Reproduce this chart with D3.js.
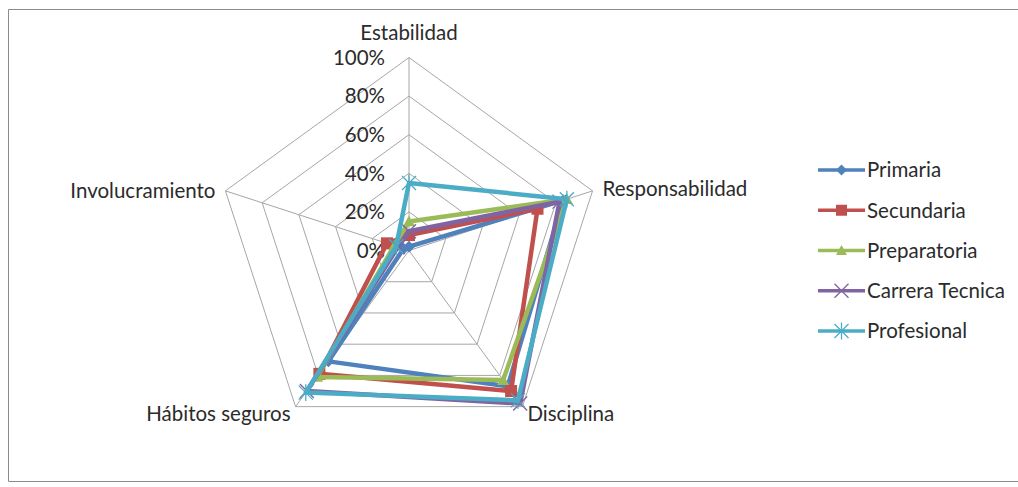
<!DOCTYPE html>
<html>
<head>
<meta charset="utf-8">
<script src="https://cdn.jsdelivr.net/npm/d3@7"></script>
<style>
  html, body { margin: 0; padding: 0; background: #ffffff; }
  svg { display: block; }
  text { font-family: Lato, "Open Sans", sans-serif; fill: #2b2b2b; }
</style>
</head>
<body>
<svg id="chart" width="1018" height="487"></svg>
<script>
// Axis categories (clockwise from the top)
const categories = ["Estabilidad", "Responsabilidad", "Disciplina", "Hábitos seguros", "Involucramiento"];

// Series names and values (share of respondents, 0–1)
const seriesNames = ["Primaria", "Secundaria", "Preparatoria", "Carrera Tecnica", "Profesional"];
const primaria       = [0.02, 0.84, 0.87, 0.71, 0.03];
const secundaria     = [0.08, 0.70, 0.90, 0.79, 0.12];
const preparatoria   = [0.15, 0.86, 0.83, 0.81, 0.08];
const carreraTecnica = [0.10, 0.82, 0.98, 0.90, 0.06];
const profesional    = [0.35, 0.86, 0.96, 0.91, 0.07];

// Radial tick values and their labels
const tickValues = [0, 0.2, 0.4, 0.6, 0.8, 1.0];
const tickLabels = ["0%", "20%", "40%", "60%", "80%", "100%"];

const seriesValues = [primaria, secundaria, preparatoria, carreraTecnica, profesional];
const seriesColors = ["#4F81BD", "#C0504D", "#9BBB59", "#8064A2", "#4BACC6"];
const seriesMarkers = ["diamond", "square", "triangle", "cross", "asterisk"];

const svg = d3.select("#chart");

// Chart-area frame (open on the right, where it runs past the page edge)
svg.append("path")
  .attr("d", "M1018,9.5H8.5V481.5H1018")
  .attr("fill", "none").attr("stroke", "#8c8c8c").attr("stroke-width", 1);

const cx = 409, cy = 250.5, R = 193;
const g = svg.append("g").attr("transform", `translate(${cx},${cy})`);

const r = d3.scaleLinear().domain([0, 1]).range([0, R]);
const angle = d3.scalePoint().domain(categories).range([0, 2 * Math.PI * (categories.length - 1) / categories.length]);

const xy = (cat, v) => {
  const a = angle(cat);
  return [r(v) * Math.sin(a), -r(v) * Math.cos(a)];
};

// Grid pentagons
const ring = d3.lineRadial().curve(d3.curveLinearClosed)
  .angle(d => angle(d.cat)).radius(d => r(d.v));

g.selectAll("path.grid")
  .data(tickValues.filter(t => t > 0))
  .join("path")
  .attr("class", "grid")
  .attr("d", t => ring(categories.map(cat => ({cat, v: t}))))
  .attr("fill", "none").attr("stroke", "#a6a6a6").attr("stroke-width", 1);

// Spokes
g.selectAll("line.spoke")
  .data(categories)
  .join("line")
  .attr("class", "spoke")
  .attr("x1", 0).attr("y1", 0)
  .attr("x2", d => xy(d, 1)[0]).attr("y2", d => xy(d, 1)[1])
  .attr("stroke", "#a6a6a6").attr("stroke-width", 1);

// Radial tick labels along the top spoke
g.selectAll("text.tick")
  .data(tickValues)
  .join("text")
  .attr("class", "tick")
  .attr("x", -24)
  .attr("y", t => -r(t))
  .attr("dy", "0.36em")
  .attr("text-anchor", "end")
  .style("font-size", "20.5px")
  .text((t, i) => tickLabels[i]);

// Category labels
const labelPlace = {
  "Estabilidad":     {dx: 0,   dy: -25, anchor: "middle"},
  "Responsabilidad": {dx: 10,  dy: -2,  anchor: "start"},
  "Disciplina":      {dx: 5,   dy: 7,   anchor: "start"},
  "Hábitos seguros": {dx: -5,  dy: 7,   anchor: "end"},
  "Involucramiento": {dx: -10, dy: 0,   anchor: "end"}
};
g.selectAll("text.cat")
  .data(categories)
  .join("text")
  .attr("class", "cat")
  .attr("x", d => xy(d, 1)[0] + labelPlace[d].dx)
  .attr("y", d => xy(d, 1)[1] + labelPlace[d].dy)
  .attr("dy", "0.36em")
  .attr("text-anchor", d => labelPlace[d].anchor)
  .style("font-size", "20.5px")
  .text(d => d);

// Marker drawing
function drawMarker(sel, type, color, size) {
  const s = size / 2;
  if (type === "diamond") {
    sel.append("path").attr("d", `M0,${-s}L${s},0L0,${s}L${-s},0Z`).attr("fill", color);
  } else if (type === "square") {
    sel.append("rect").attr("x", -s).attr("y", -s).attr("width", size).attr("height", size).attr("fill", color);
  } else if (type === "triangle") {
    sel.append("path").attr("d", `M0,${-s}L${s},${s * 0.8}L${-s},${s * 0.8}Z`).attr("fill", color);
  } else if (type === "cross") {
    sel.append("path").attr("d", `M${-s},${-s}L${s},${s}M${-s},${s}L${s},${-s}`)
      .attr("stroke", color).attr("stroke-width", 1.3).attr("fill", "none");
  } else if (type === "asterisk") {
    sel.append("path").attr("d", `M${-s},${-s}L${s},${s}M${-s},${s}L${s},${-s}M0,${-s * 1.2}L0,${s * 1.2}`)
      .attr("stroke", color).attr("stroke-width", 1.3).attr("fill", "none");
  }
}

// Series polygons
seriesNames.forEach((name, i) => {
  const pts = categories.map((cat, j) => ({cat, v: seriesValues[i][j]}));
  const sg = g.append("g").attr("class", "series");
  sg.append("path")
    .attr("d", ring(pts))
    .attr("fill", "none")
    .attr("stroke", seriesColors[i])
    .attr("stroke-width", 4.5)
    .attr("stroke-linejoin", "round");
  pts.forEach(p => {
    const [x, y] = xy(p.cat, p.v);
    const m = sg.append("g").attr("transform", `translate(${x},${y})`);
    drawMarker(m, seriesMarkers[i], seriesColors[i], seriesMarkers[i] === "cross" || seriesMarkers[i] === "asterisk" ? 14 : 12);
  });
});

// Legend
const legendY = d3.scalePoint().domain(seriesNames).range([170, 331]);
const lg = svg.append("g").attr("class", "legend");
seriesNames.forEach((name, i) => {
  const y = legendY(name);
  lg.append("line")
    .attr("x1", 818).attr("x2", 865).attr("y1", y).attr("y2", y)
    .attr("stroke", seriesColors[i]).attr("stroke-width", 3.5);
  const m = lg.append("g").attr("transform", `translate(841.5,${y})`);
  drawMarker(m, seriesMarkers[i], seriesColors[i], seriesMarkers[i] === "cross" || seriesMarkers[i] === "asterisk" ? 14 : 11);
  lg.append("text")
    .attr("x", 867).attr("y", y).attr("dy", "0.36em")
    .style("font-size", "20.5px")
    .text(name);
});
</script>
</body>
</html>
